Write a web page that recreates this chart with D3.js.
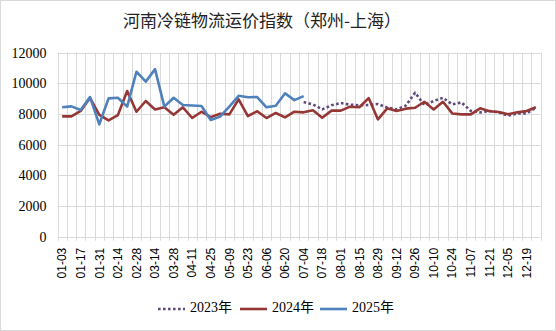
<!DOCTYPE html>
<html>
<head>
<meta charset="utf-8">
<script src="https://cdn.jsdelivr.net/npm/d3@7/dist/d3.min.js"></script>
<style>
  html, body { margin: 0; padding: 0; background: #fff; }
  svg { display: block; }
</style>
</head>
<body>
<svg id="chart" width="556" height="331"></svg>
<script>
// Weekly dates (52 weeks)
const weeks = [
  "01-03","01-10","01-17","01-24","01-31","02-07","02-14","02-21","02-28","03-07",
  "03-14","03-21","03-28","04-04","04-11","04-18","04-25","05-02","05-09","05-16",
  "05-23","05-30","06-06","06-13","06-20","06-27","07-04","07-11","07-18","07-25",
  "08-01","08-08","08-15","08-22","08-29","09-05","09-12","09-19","09-26","10-03",
  "10-10","10-17","10-24","10-31","11-07","11-14","11-21","11-28","12-05","12-12",
  "12-19","12-26"
];

// 2023: data available from 07-04 onwards
const values2023 = [
  null,null,null,null,null,null,null,null,null,null,
  null,null,null,null,null,null,null,null,null,null,
  null,null,null,null,null,null,
  8780,8630,8300,8570,8720,8610,8570,8590,8650,8420,
  8300,8550,9390,8590,8850,9060,8630,8760,8200,8110,
  8200,8110,7890,8040,8040,8410
];

const values2024 = [
  7850,7850,8200,9060,7950,7590,7930,9500,8150,8850,
  8300,8440,7950,8440,7740,8150,7800,8020,7980,8960,
  7870,8180,7740,8070,7780,8150,8110,8240,7760,8220,
  8220,8480,8440,9040,7650,8370,8200,8350,8410,8800,
  8300,8800,8040,7980,7980,8370,8180,8130,7980,8110,
  8200,8440
];

// 2025: up to 07-04
const values2025 = [
  8440,8500,8260,9110,7330,9020,9060,8480,10760,10110,
  10930,8480,9060,8590,8560,8520,7610,7830,8480,9190,
  9090,9110,8440,8540,9350,8910,9170
];

const yTicks = [0, 2000, 4000, 6000, 8000, 10000, 12000];
const seriesNames = ["2023年", "2024年", "2025年"];
const seriesColors = ["#604a7b", "#953735", "#4f81bd"];
const title = "河南冷链物流运价指数（郑州-上海）";

const W = 556, H = 331;
const plot = { left: 57.5, right: 540.5, top: 52.7, bottom: 236.7 };

const svg = d3.select("#chart");

// outer frame
svg.append("rect")
  .attr("x", 0.5).attr("y", 0.5)
  .attr("width", W - 1).attr("height", H - 1)
  .attr("fill", "#fff").attr("stroke", "#d9d9d9");

const x = d3.scaleBand().domain(weeks).range([plot.left, plot.right]).padding(0);
const y = d3.scaleLinear().domain([0, 12000]).range([plot.bottom, plot.top]);

// horizontal grid
svg.append("g")
  .selectAll("line")
  .data(yTicks)
  .join("line")
  .attr("x1", plot.left).attr("x2", plot.right)
  .attr("y1", d => Math.round(y(d)) + 0.5).attr("y2", d => Math.round(y(d)) + 0.5)
  .attr("stroke", "#d9d9d9").attr("stroke-width", 1);

// vertical grid at band boundaries, extended as small ticks below the axis
const boundaries = weeks.map(w => x(w)).concat([plot.right]);
svg.append("g")
  .selectAll("line")
  .data(boundaries)
  .join("line")
  .attr("x1", d => Math.round(d) + 0.5).attr("x2", d => Math.round(d) + 0.5)
  .attr("y1", plot.top).attr("y2", plot.bottom + 4)
  .attr("stroke", "#d9d9d9").attr("stroke-width", 1);

// y axis labels
const yAxis = d3.axisLeft(y).tickValues(yTicks).tickFormat(d3.format("d"))
  .tickSize(0).tickPadding(11);
svg.append("g")
  .attr("transform", `translate(${plot.left},0)`)
  .call(yAxis)
  .call(g => g.select(".domain").remove())
  .selectAll("text")
  .attr("font-family", "'Liberation Serif', 'Times New Roman', serif")
  .attr("font-size", 14)
  .attr("fill", "#000");

// x axis labels (every other week)
const xAxis = d3.axisBottom(x)
  .tickValues(weeks.filter((d, i) => i % 2 === 0))
  .tickSize(0);
svg.append("g")
  .attr("transform", `translate(0,${plot.bottom})`)
  .call(xAxis)
  .call(g => g.select(".domain").remove())
  .selectAll("text")
  .attr("font-family", "'Liberation Sans', Arial, sans-serif")
  .attr("font-size", 12)
  .attr("fill", "#000")
  .attr("text-anchor", "end")
  .attr("dy", "0.35em")
  .attr("transform", "translate(0,11) rotate(-90)")
  .attr("x", 0).attr("y", 0);

// series lines
const seriesData = [values2023, values2024, values2025];
const line = d3.line()
  .defined(d => d.v != null)
  .x(d => x(d.w) + x.bandwidth() / 2)
  .y(d => y(d.v));

seriesData.forEach((vals, si) => {
  const pts = vals.map((v, i) => ({ w: weeks[i], v }));
  const path = svg.append("path")
    .datum(pts)
    .attr("d", line)
    .attr("fill", "none")
    .attr("stroke", seriesColors[si])
    .attr("stroke-width", 2.6)
    .attr("stroke-linejoin", "round");
  if (si === 0) path.attr("stroke-dasharray", "2.6 2.4");
});

// title
svg.append("text")
  .attr("x", 262).attr("y", 22)
  .attr("text-anchor", "middle")
  .attr("dominant-baseline", "middle")
  .attr("font-family", "'Noto Sans CJK SC', sans-serif")
  .attr("font-size", 17)
  .attr("fill", "#222")
  .text(title);

// legend
const legendItems = [
  { x: 158, name: seriesNames[0], color: seriesColors[0], dash: "2.6 2.4" },
  { x: 240, name: seriesNames[1], color: seriesColors[1], dash: null },
  { x: 320, name: seriesNames[2], color: seriesColors[2], dash: null }
];
const lg = svg.append("g");
legendItems.forEach(it => {
  const l = lg.append("line")
    .attr("x1", it.x).attr("x2", it.x + 27)
    .attr("y1", 309).attr("y2", 309)
    .attr("stroke", it.color).attr("stroke-width", 2.6);
  if (it.dash) l.attr("stroke-dasharray", it.dash);
  lg.append("text")
    .attr("x", it.x + 32).attr("y", 309)
    .attr("dominant-baseline", "middle")
    .attr("font-family", "'Liberation Serif', 'Noto Sans CJK SC', serif")
    .attr("font-size", 14)
    .attr("fill", "#000")
    .text(it.name);
});
</script>
</body>
</html>
